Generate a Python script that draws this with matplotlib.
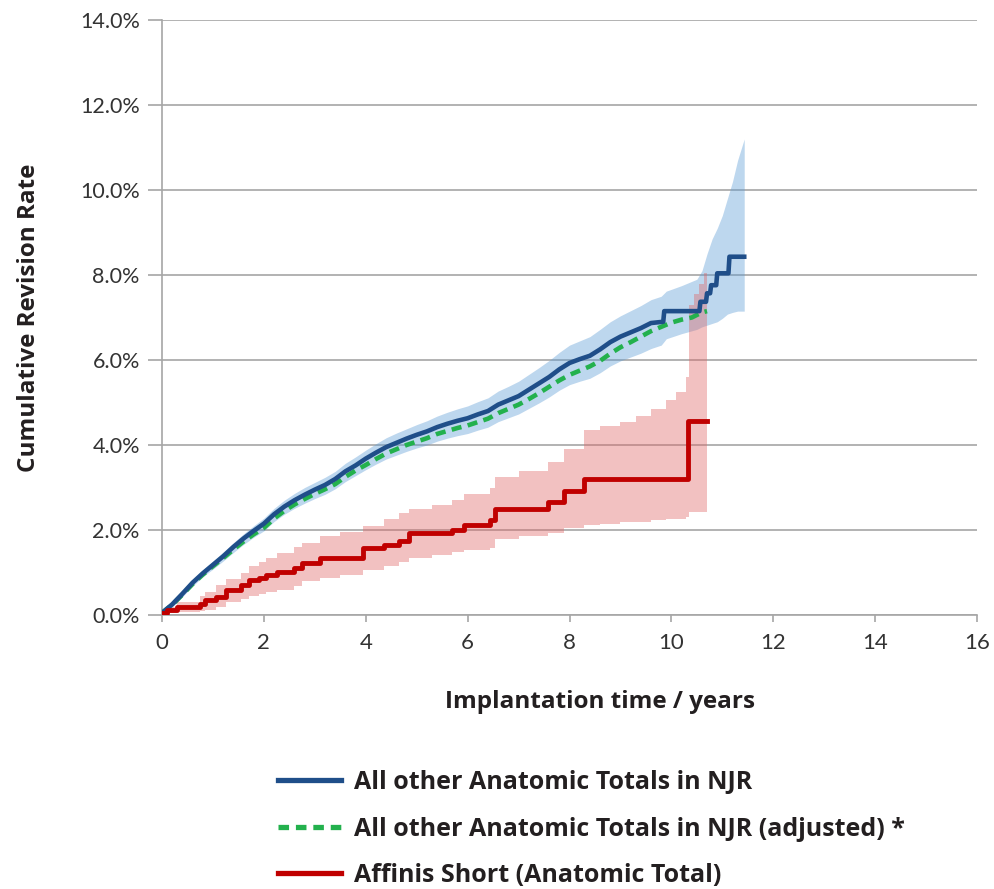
import matplotlib
matplotlib.use("Agg")
import matplotlib.pyplot as plt
from matplotlib.lines import Line2D
from matplotlib.ticker import FuncFormatter

# ---- data (years, % revised) ----
# blue: dense small steps drawn as a line, the late big steps written as corners
blue_t = [0, 0.2, 0.4, 0.6, 0.8, 1.0, 1.2, 1.4, 1.6, 1.8, 2.0, 2.2, 2.4, 2.6, 2.8,
          3.0, 3.2, 3.4, 3.6, 3.8, 4.0, 4.2, 4.4, 4.6, 4.8, 5.0, 5.2, 5.4, 5.6, 5.8,
          6.0, 6.2, 6.4, 6.6, 6.8, 7.0, 7.2, 7.4, 7.6, 7.8, 8.0, 8.2, 8.4, 8.6, 8.8,
          9.0, 9.2, 9.4, 9.6, 9.84, 9.86, 10.55, 10.57, 10.68, 10.7, 10.76, 10.78,
          10.88, 10.9, 11.12, 11.14, 11.43]
blue_v = [0.05, 0.25, 0.5, 0.76, 0.98, 1.18, 1.38, 1.6, 1.8, 1.98, 2.15, 2.37, 2.55, 2.7, 2.83,
          2.95, 3.06, 3.2, 3.38, 3.52, 3.68, 3.82, 3.95, 4.05, 4.15, 4.24, 4.32, 4.42, 4.5, 4.57,
          4.63, 4.72, 4.8, 4.95, 5.05, 5.15, 5.3, 5.45, 5.6, 5.78, 5.93, 6.02, 6.1, 6.25, 6.42,
          6.55, 6.65, 6.75, 6.87, 6.9, 7.15, 7.15, 7.37, 7.37, 7.57, 7.57, 7.76,
          7.76, 8.04, 8.04, 8.43, 8.43]

blueci_t = [0, 0.2, 0.4, 0.6, 0.8, 1.0, 1.2, 1.4, 1.6, 1.8, 2.0, 2.2, 2.4, 2.6, 2.8,
            3.0, 3.2, 3.4, 3.6, 3.8, 4.0, 4.2, 4.4, 4.6, 4.8, 5.0, 5.2, 5.4, 5.6, 5.8,
            6.0, 6.2, 6.4, 6.6, 6.8, 7.0, 7.2, 7.4, 7.6, 7.8, 8.0, 8.2, 8.4, 8.6, 8.8,
            9.0, 9.2, 9.4, 9.6, 9.8, 9.9, 10.2, 10.5, 10.6, 10.7, 10.8, 10.9, 11.0,
            11.1, 11.2, 11.3, 11.43]
blue_hi = [0.08, 0.3, 0.56, 0.83, 1.06, 1.27, 1.48, 1.7, 1.91, 2.1, 2.28, 2.51, 2.7, 2.86, 3.0,
           3.12, 3.24, 3.38, 3.57, 3.72, 3.88, 4.03, 4.17, 4.28, 4.38, 4.48, 4.57, 4.68, 4.77, 4.85,
           4.92, 5.02, 5.11, 5.27, 5.38, 5.5, 5.66, 5.82, 5.99, 6.18, 6.35, 6.45, 6.55, 6.72, 6.9,
           7.04, 7.16, 7.28, 7.42, 7.5, 7.62, 7.75, 7.9, 8.1, 8.5, 8.85, 9.1, 9.4,
           9.8, 10.2, 10.7, 11.2]
blue_lo = [0.02, 0.2, 0.43, 0.68, 0.9, 1.08, 1.27, 1.47, 1.66, 1.83, 1.98, 2.2, 2.37, 2.51, 2.63,
           2.74, 2.84, 2.97, 3.14, 3.28, 3.42, 3.55, 3.67, 3.76, 3.85, 3.93, 4.0, 4.09, 4.16, 4.22,
           4.27, 4.35, 4.42, 4.55, 4.64, 4.73, 4.86, 4.99, 5.13, 5.29, 5.42, 5.5, 5.57, 5.7, 5.86,
           5.98, 6.07, 6.16, 6.27, 6.35, 6.5, 6.62, 6.72, 6.78, 6.82, 6.86, 6.9, 6.98,
           7.08, 7.12, 7.15, 7.15]

green_t = [0, 0.2, 0.4, 0.6, 0.8, 1.0, 1.2, 1.4, 1.6, 1.8, 2.0, 2.2, 2.4, 2.6, 2.8,
           3.0, 3.2, 3.4, 3.6, 3.8, 4.0, 4.2, 4.4, 4.6, 4.8, 5.0, 5.2, 5.4, 5.6, 5.8,
           6.0, 6.2, 6.4, 6.6, 6.8, 7.0, 7.2, 7.4, 7.6, 7.8, 8.0, 8.2, 8.4, 8.6, 8.8,
           9.0, 9.2, 9.4, 9.6, 9.8, 10.0, 10.2, 10.4, 10.6, 10.7]
green_v = [0.05, 0.24, 0.48, 0.73, 0.95, 1.15, 1.34, 1.54, 1.73, 1.9, 2.05, 2.27, 2.45, 2.6, 2.73,
           2.85, 2.96, 3.08, 3.25, 3.4, 3.53, 3.67, 3.8, 3.9, 4.0, 4.08, 4.16, 4.26, 4.33, 4.4,
           4.46, 4.54, 4.62, 4.75, 4.85, 4.95, 5.08, 5.22, 5.37, 5.52, 5.65, 5.75, 5.85, 5.98, 6.15,
           6.3, 6.42, 6.55, 6.68, 6.78, 6.88, 6.95, 7.0, 7.12, 7.15]

red_t = [0, 0.1, 0.3, 0.75, 0.85, 1.05, 1.25, 1.55, 1.7, 1.9, 2.05, 2.25, 2.6, 2.75, 3.1,
         3.95, 4.35, 4.65, 4.85, 5.7, 5.92, 6.43, 6.53, 7.57, 7.9, 8.29, 10.33, 10.7]
red_v = [0.05, 0.12, 0.2, 0.27, 0.35, 0.43, 0.59, 0.7, 0.82, 0.88, 0.94, 1.02, 1.1, 1.22, 1.33,
         1.57, 1.65, 1.75, 1.92, 2.0, 2.12, 2.24, 2.5, 2.67, 2.92, 3.2, 4.57, 4.57]

redci_t = [0, 0.1, 0.3, 0.75, 0.85, 1.05, 1.25, 1.55, 1.7, 1.9, 2.05, 2.25, 2.6, 2.75, 3.1,
           3.5, 3.95, 4.35, 4.65, 4.85, 5.3, 5.7, 5.92, 6.43, 6.53, 7.0, 7.57, 7.9, 8.29,
           8.6, 9.0, 9.3, 9.6, 9.9, 10.1, 10.29, 10.35, 10.45, 10.55, 10.65, 10.7]
red_hi = [0.08, 0.2, 0.3, 0.45, 0.55, 0.7, 0.85, 1.0, 1.15, 1.25, 1.35, 1.45, 1.6, 1.7, 1.85,
          1.95, 2.1, 2.25, 2.4, 2.5, 2.6, 2.7, 2.85, 3.0, 3.25, 3.4, 3.6, 3.9, 4.35,
          4.45, 4.55, 4.68, 4.85, 5.06, 5.25, 5.6, 7.3, 7.55, 7.8, 8.05, 8.1]
red_lo = [0.02, 0.05, 0.08, 0.1, 0.12, 0.18, 0.3, 0.38, 0.45, 0.5, 0.55, 0.6, 0.68, 0.8, 0.88,
          0.95, 1.05, 1.15, 1.25, 1.35, 1.42, 1.48, 1.52, 1.57, 1.78, 1.85, 1.92, 2.05, 2.12,
          2.15, 2.18, 2.2, 2.23, 2.25, 2.27, 2.3, 2.43, 2.43, 2.43, 2.43, 2.43]

labels = ["All other Anatomic Totals in NJR",
          "All other Anatomic Totals in NJR (adjusted) *",
          "Affinis Short (Anatomic Total)"]

navy = "#1f4e89"
green = "#23b14d"
red = "#c00000"
grid_c = "#a6a6a6"
txt_c = "#333333"
dark = "#231f20"

fig = plt.figure(figsize=(9.94, 8.89), dpi=100)
ax = fig.add_axes([0.163, 0.3082, 0.8199, 0.6693])

ax.fill_between(blueci_t, blue_lo, blue_hi, color="#5b9bd5", alpha=0.4, lw=0, zorder=2)
ax.fill_between(redci_t, red_lo, red_hi, step="post", color="#e06666", alpha=0.4, lw=0, zorder=2)
ax.plot(green_t, green_v, color=green, lw=3.3, ls=(0, (2.2, 1.4)), zorder=3)
ax.plot(blue_t, blue_v, color=navy, lw=3.3, zorder=4)
ax.step(red_t, red_v, where="post", color=red, lw=3.5, zorder=5)

ax.set_xlim(0, 16)
ax.set_ylim(0, 14)
ax.set_xticks(range(0, 17, 2))
ax.set_yticks(range(0, 15, 2))
ax.yaxis.set_major_formatter(FuncFormatter(lambda v, p: f"{v:.1f}%"))
ax.grid(axis="y", color=grid_c, lw=1.2, zorder=1)
ax.set_axisbelow(True)
for s in ["top", "right"]:
    ax.spines[s].set_visible(False)
for s in ["left", "bottom"]:
    ax.spines[s].set_color(grid_c)
    ax.spines[s].set_linewidth(1.2)
ax.tick_params(axis="y", length=10, width=1.2, color=grid_c, labelsize=15.5, labelcolor=txt_c, pad=6)
ax.tick_params(axis="x", length=5, width=1.2, color=grid_c, labelsize=16, labelcolor=txt_c, pad=8)
for lab in ax.get_yticklabels() + ax.get_xticklabels():
    lab.set_family(["Lato", "DejaVu Sans"])

ax.set_ylabel("Cumulative Revision Rate", fontsize=17.5, fontweight="bold",
              family=["Open Sans", "DejaVu Sans"], color=dark)
ax.yaxis.set_label_coords(-0.148, 0.5)
ax.set_xlabel("Implantation time / years", fontsize=17.5, fontweight="bold",
              family=["Open Sans", "DejaVu Sans"], color=dark)
ax.xaxis.set_label_coords(0.537, -0.126)

handles = [Line2D([], [], color=navy, lw=3.8),
           Line2D([], [], color=green, lw=3.8, ls=(0, (2.0, 1.3))),
           Line2D([], [], color=red, lw=3.8)]
leg = fig.legend(handles, labels, loc="upper left", bbox_to_anchor=(278 / 994, 1 - 770 / 889),
                 frameon=False, handlelength=2.5, handletextpad=0.56, labelspacing=0.86,
                 borderpad=0, borderaxespad=0,
                 prop={"family": ["Open Sans", "DejaVu Sans"], "weight": "bold", "size": 18})
for t in leg.get_texts():
    t.set_color(dark)

fig.savefig("out.png", dpi=100)
